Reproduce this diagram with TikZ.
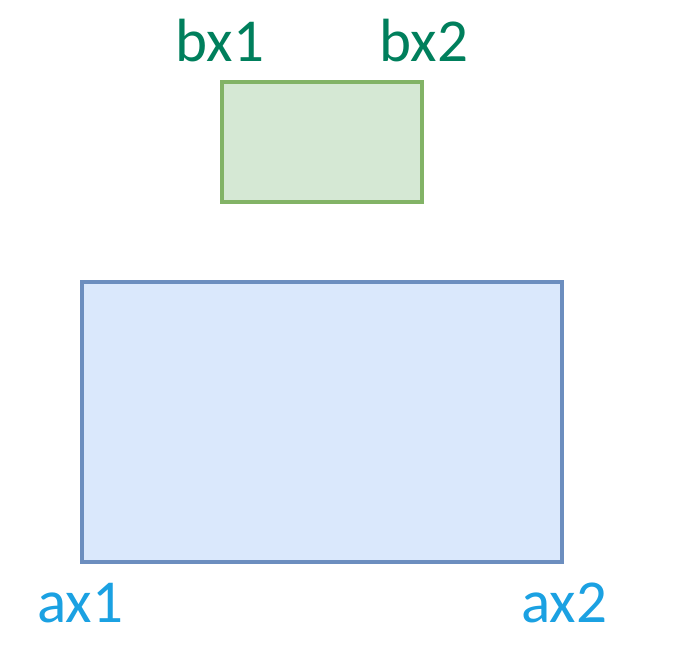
\documentclass[tikz,border=0pt]{standalone}
\usepackage{fontspec}
\setmainfont{Carlito}
\usepackage{xcolor}
\usepackage{tikz}
\usetikzlibrary{positioning}
\definecolor{boxgreen}{HTML}{82B366}
\definecolor{lightgreen}{HTML}{D5E8D4}
\definecolor{boxblue}{HTML}{6C8EBF}
\definecolor{lightblue}{HTML}{DAE8FC}
\definecolor{textgreen}{HTML}{007F5C}
\definecolor{textblue}{HTML}{1BA1E2}
\begin{document}
\begin{tikzpicture}[x=1pt, y=-1pt,
  box/.style={draw, line width=4pt, inner sep=0pt},
  lbl/.style={inner sep=0pt, font=\fontsize{61}{66}\selectfont}]
  \useasboundingbox (0,0) rectangle (684,648);
  \node[box, fill=lightgreen, draw=boxgreen, minimum width=200pt,
        minimum height=120pt] (boxb) at (322,142) {};
  \node[box, fill=lightblue, draw=boxblue, minimum width=480pt,
        minimum height=280pt] (boxa) at (322,422) {};
  \node[lbl, text=textgreen, above=18pt of boxb.north west] (bx1) {bx1};
  \node[lbl, text=textgreen, above=18pt of boxb.north east] (bx2) {bx2};
  \node[lbl, text=textblue, below=19pt of boxa.south west] (ax1) {ax1};
  \node[lbl, text=textblue, below=19pt of boxa.south east] (ax2) {ax2};
\end{tikzpicture}
\end{document}
